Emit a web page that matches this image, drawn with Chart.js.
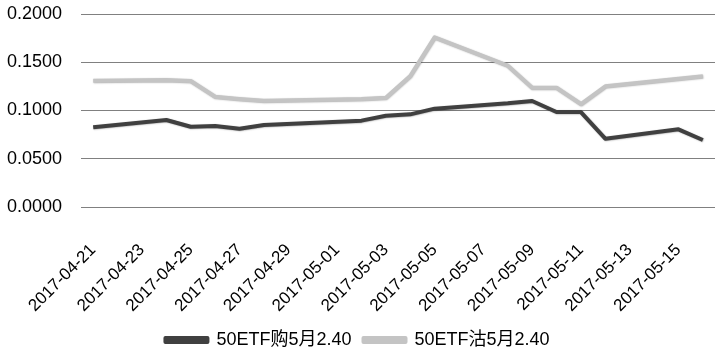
<!DOCTYPE html>
<html>
<head>
<meta charset="utf-8">
<script src="https://cdn.jsdelivr.net/npm/chart.js@4"></script>
<style>
  html, body { margin: 0; padding: 0; background: #fff; }
  .chart-box { width: 719px; height: 359px; }
</style>
</head>
<body>
<div class="chart-box"><canvas id="optChart"></canvas></div>
<script>
// dias do eixo (inclui fins de semana, sem negociação = null)
const dates = [
  '2017-04-21', '2017-04-22', '2017-04-23', '2017-04-24', '2017-04-25', '2017-04-26',
  '2017-04-27', '2017-04-28', '2017-04-29', '2017-04-30', '2017-05-01', '2017-05-02',
  '2017-05-03', '2017-05-04', '2017-05-05', '2017-05-06', '2017-05-07', '2017-05-08',
  '2017-05-09', '2017-05-10', '2017-05-11', '2017-05-12', '2017-05-13', '2017-05-14',
  '2017-05-15', '2017-05-16'
]

const callValues = [
  0.0826, null, null, 0.0902, 0.0832, 0.0839,
  0.0811, 0.0850, null, null, null, 0.0895,
  0.0946, 0.0960, 0.1019, null, null, 0.1074,
  0.1098, 0.0984, 0.0984, 0.0708, null, null,
  0.0805, 0.0694
]

const putValues = [
  0.1309, null, null, 0.1316, 0.1306, 0.1143,
  0.1120, 0.1102, null, null, null, 0.1118,
  0.1133, 0.1358, 0.1758, null, null, 0.1464,
  0.1236, 0.1236, 0.1067, 0.1251, null, null,
  0.1330, 0.1354
]

const seriesNames = ['50ETF购5月2.40', '50ETF沽5月2.40']

const fontFamily = '"Liberation Sans", "Noto Sans CJK SC", sans-serif'

// sombra leve nas linhas
const lineShadow = {
  id: 'lineShadow',
  beforeDatasetDraw(chart) {
    const ctx = chart.ctx
    ctx.save()
    ctx.shadowColor = 'rgba(0, 0, 0, 0.3)'
    ctx.shadowBlur = 1.5
    ctx.shadowOffsetX = 0.5
    ctx.shadowOffsetY = 0.5
  },
  afterDatasetDraw(chart) {
    chart.ctx.restore()
  }
}

const ctx = document.getElementById('optChart').getContext('2d')

new Chart(ctx, {
  type: 'line',
  data: {
    labels: dates,
    datasets: [
      {
        label: seriesNames[0],
        data: callValues,
        borderColor: '#404040',
        backgroundColor: '#404040',
        borderWidth: 4,
        pointRadius: 0,
        borderJoinStyle: 'round',
        spanGaps: true
      },
      {
        label: seriesNames[1],
        data: putValues,
        borderColor: '#c4c4c4',
        backgroundColor: '#c4c4c4',
        borderWidth: 4,
        pointRadius: 0,
        borderJoinStyle: 'round',
        spanGaps: true
      }
    ]
  },
  options: {
    responsive: true,
    maintainAspectRatio: false,
    animation: false,
    layout: { padding: { top: 14, right: 4, left: 0, bottom: 0 } },
    plugins: {
      tooltip: { enabled: false },
      legend: {
        position: 'bottom',
        labels: {
          color: '#000',
          font: { family: fontFamily, size: 18 },
          boxWidth: 42,
          boxHeight: 4,
          padding: 12
        }
      }
    },
    scales: {
      x: {
        offset: true,
        grid: { display: false },
        border: { display: false },
        afterFit(scale) {
          scale.height = 112
          scale.paddingLeft = 0
          scale.paddingRight = 0
        },
        ticks: {
          autoSkip: false,
          maxRotation: 45,
          minRotation: 45,
          padding: 25,
          color: '#000',
          font: { family: fontFamily, size: 17 },
          callback: (value, index) => index % 2 === 0 ? dates[index] : ''
        }
      },
      y: {
        min: 0,
        max: 0.2,
        afterFit(scale) {
          scale.width = 81
          scale.paddingTop = 0
          scale.paddingBottom = 0
        },
        border: { display: false },
        grid: { color: '#808080', lineWidth: 1, drawTicks: false },
        ticks: {
          stepSize: 0.05,
          padding: 19,
          color: '#000',
          font: { family: fontFamily, size: 18 },
          callback: (value) => value.toFixed(4)
        }
      }
    }
  },
  plugins: [lineShadow]
})
</script>
</body>
</html>
